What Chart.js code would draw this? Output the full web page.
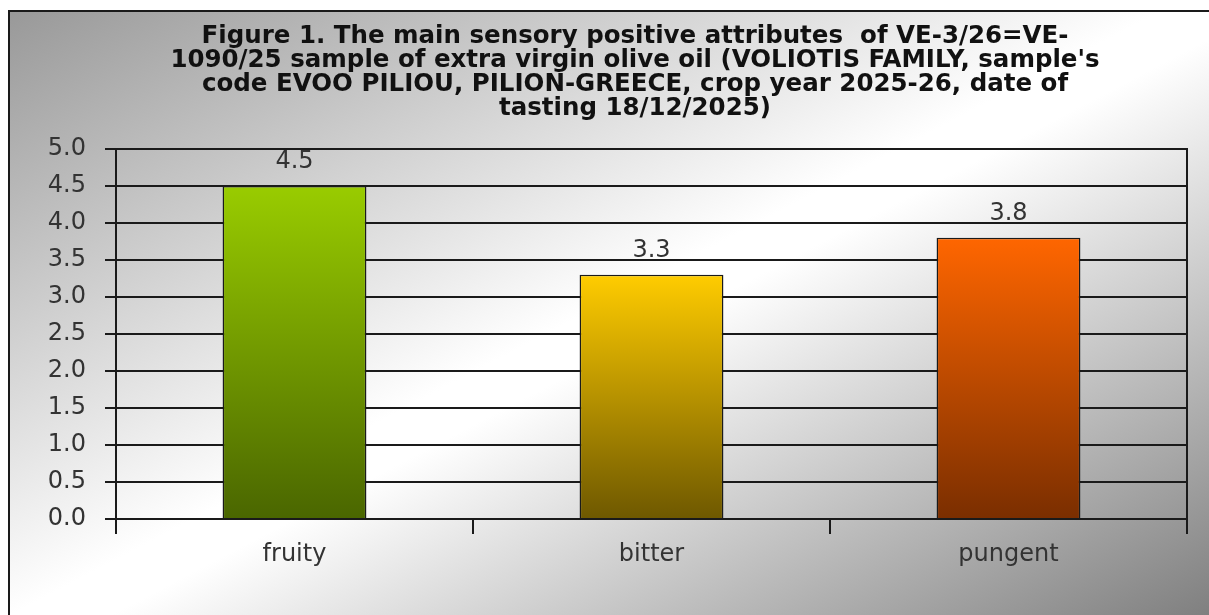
<!DOCTYPE html>
<html>
<head>
<meta charset="utf-8">
<script src="https://cdn.jsdelivr.net/npm/chart.js@4"></script>
<style>
  html, body { margin: 0; padding: 0; overflow: hidden; background: #fff; }
  #frame {
    position: absolute; left: 8px; top: 10px;
    width: 1250px; height: 656px;
    border: 2px solid #1a1a1a;
    background: linear-gradient(to bottom right, #999999 0%, #ffffff 46%, #ffffff 50%, #6e6e6e 100%);
  }
  canvas { display: block; }
</style>
</head>
<body>
<div id="frame"><canvas id="chart" width="1250" height="656"></canvas></div>
<script>
// chart data
const titleLines = [
  "Figure 1. The main sensory positive attributes  of VE-3/26=VE-",
  "1090/25 sample of extra virgin olive oil (VOLIOTIS FAMILY, sample's",
  "code EVOO PILIOU, PILION-GREECE, crop year 2025-26, date of",
  "tasting 18/12/2025)"
];
const categories = ['fruity', 'bitter', 'pungent'];
const scores = [4.5, 3.3, 3.8];
const barTopColors = ['#99cc00', '#ffcc00', '#ff6600'];
const barBottomColors = ['#4a6600', '#6e5800', '#7a2e00'];
const yMin = 0, yMax = 5, yStep = 0.5;

const FONT = "Verdana, 'DejaVu Sans', sans-serif";

// vertical gradient per bar, from its top down to zero
function barFill(ctx) {
  const chart = ctx.chart;
  const y = chart.scales.y;
  if (!chart.chartArea || !y) return barTopColors[ctx.dataIndex];
  const top = y.getPixelForValue(ctx.raw);
  const bottom = y.getPixelForValue(0);
  const g = chart.ctx.createLinearGradient(0, top, 0, bottom);
  g.addColorStop(0, barTopColors[ctx.dataIndex]);
  g.addColorStop(1, barBottomColors[ctx.dataIndex]);
  return g;
}

// numbers above the bars + right edge of the plot box
const valueLabels = {
  id: 'valueLabels',
  afterDatasetsDraw(chart) {
    const c = chart.ctx;
    const area = chart.chartArea;
    c.save();
    c.strokeStyle = '#1a1a1a';
    c.lineWidth = 2;
    c.beginPath();
    c.moveTo(area.right, area.top - 1);
    c.lineTo(area.right, area.bottom + 8);
    c.stroke();

    c.font = '24px ' + FONT;
    c.fillStyle = '#333';
    c.textAlign = 'center';
    c.textBaseline = 'alphabetic';
    chart.getDatasetMeta(0).data.forEach((bar, i) => {
      c.fillText(scores[i].toFixed(1), bar.x, bar.y - 18);
    });
    c.restore();
  }
};

new Chart(document.getElementById('chart'), {
  type: 'bar',
  data: {
    labels: categories,
    datasets: [{
      data: scores,
      backgroundColor: barFill,
      borderColor: '#1a1a1a',
      borderWidth: 1.5,
      barPercentage: 0.403,
      categoryPercentage: 1
    }]
  },
  options: {
    responsive: false,
    animation: false,
    devicePixelRatio: 1,
    layout: { padding: { left: 0, right: 0, top: 0, bottom: 69 } },
    plugins: {
      legend: { display: false },
      tooltip: { enabled: false },
      title: {
        display: true,
        text: titleLines,
        color: '#111',
        font: { family: FONT, size: 24.5, weight: 'bold', lineHeight: '24px' },
        padding: { top: 13, bottom: 28 }
      }
    },
    scales: {
      x: {
        afterFit: (s) => { s.height = 80; },
        grid: {
          offset: true,
          drawOnChartArea: false,
          drawTicks: true,
          tickLength: 15,
          color: '#1a1a1a',
          lineWidth: 2
        },
        border: { display: true, color: '#1a1a1a', width: 2 },
        ticks: { color: '#333', padding: 6, font: { family: FONT, size: 24 } }
      },
      y: {
        min: yMin,
        max: yMax,
        afterFit: (s) => { s.width = 106; },
        ticks: {
          stepSize: yStep,
          color: '#333',
          padding: 19,
          font: { family: FONT, size: 24 },
          callback: (v) => Number(v).toFixed(1)
        },
        grid: { color: '#1a1a1a', lineWidth: 2, tickLength: 11, drawTicks: true },
        border: { display: true, color: '#1a1a1a', width: 2 }
      },
      // empty right-hand axis, only reserves the margin so the title stays centred
      yRight: {
        position: 'right',
        afterFit: (s) => { s.width = 73; },
        ticks: { display: false },
        grid: { display: false },
        border: { display: false }
      }
    }
  },
  plugins: [valueLabels]
});
</script>
</body>
</html>
